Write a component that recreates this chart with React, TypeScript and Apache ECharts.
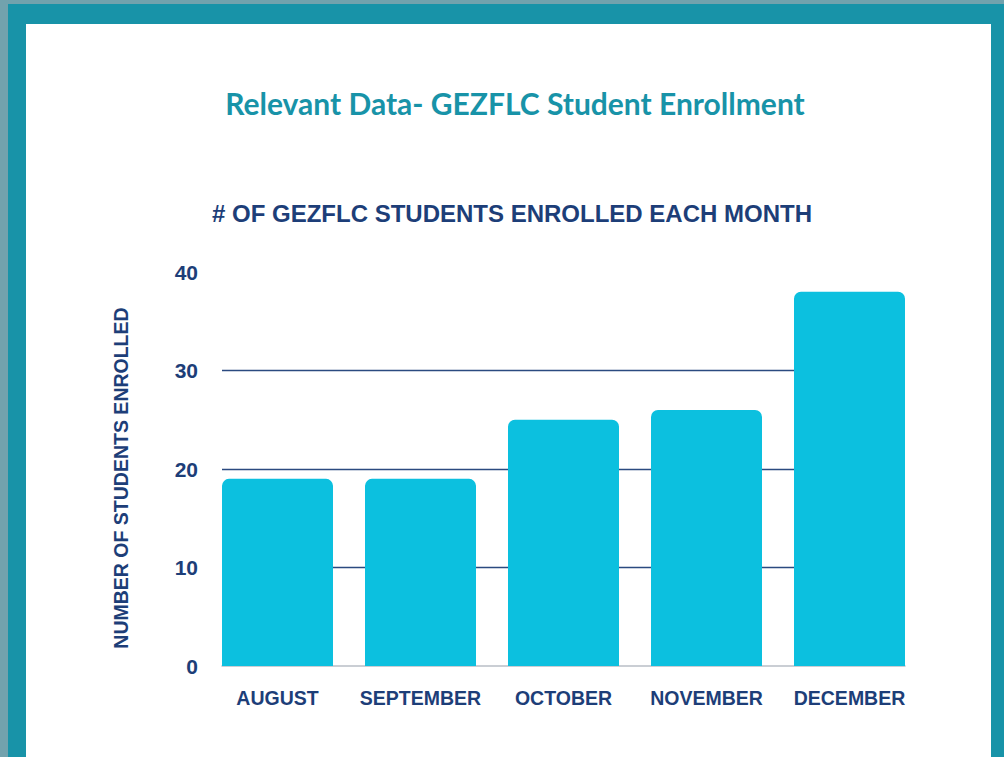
import React, { useEffect, useRef } from "react";
import * as echarts from "echarts";

const categories = ["AUGUST", "SEPTEMBER", "OCTOBER", "NOVEMBER", "DECEMBER"];
const enrolled = [19, 19, 25, 26, 38];
const yMin = 0;
const yMax = 40;
const yInterval = 10;

const titleText = "Relevant Data- GEZFLC Student Enrollment";
const subtitleText = "# OF GEZFLC STUDENTS ENROLLED EACH MONTH";
const yAxisTitle = "NUMBER OF STUDENTS ENROLLED";

const NAVY = "#1d3e78";
const TEAL = "#1893a8";
const BAR = "#0cc0df";

export default function App() {
  const ref = useRef<HTMLDivElement>(null);

  useEffect(() => {
    if (!ref.current) return;
    const chart = echarts.init(ref.current, null, { renderer: "svg" });
    chart.setOption({
      animation: false,
      backgroundColor: "transparent",
      grid: [
        { left: 222, right: 99, top: 272, bottom: 91 },
        { left: 206, right: 83, top: 272, bottom: 91 },
      ],
      xAxis: [
        {
          gridIndex: 0,
          type: "value",
          min: 0,
          max: 1,
          axisLabel: { show: false },
          axisTick: { show: false },
          splitLine: { show: false },
          axisLine: { show: true, lineStyle: { color: "#b9bec6", width: 1.5 } },
        },
        {
          gridIndex: 1,
          type: "category",
          data: categories,
          axisLine: { show: false },
          axisTick: { show: false },
          axisLabel: {
            interval: 0,
            margin: 22,
            color: NAVY,
            fontFamily: "Liberation Sans, Arial, sans-serif",
            fontWeight: "bold",
            fontSize: 19.5,
          },
        },
      ],
      yAxis: [
        {
          gridIndex: 0,
          type: "value",
          min: yMin,
          max: yMax,
          interval: yInterval,
          axisLine: { show: false },
          axisTick: { show: false },
          axisLabel: {
            margin: 24,
            color: NAVY,
            fontFamily: "Liberation Sans, Arial, sans-serif",
            fontWeight: "bold",
            fontSize: 21,
            padding: [8, 0, 0, 0],
          },
          splitLine: {
            show: true,
            showMinLine: false,
            showMaxLine: false,
            lineStyle: { color: "#2b4a80", width: 1.3 },
          },
        },
        {
          gridIndex: 1,
          type: "value",
          min: yMin,
          max: yMax,
          interval: yInterval,
          show: false,
          splitLine: { show: false },
        },
      ],
      series: [
        {
          type: "bar",
          xAxisIndex: 1,
          yAxisIndex: 1,
          data: enrolled,
          barWidth: 111,
          itemStyle: { color: BAR, borderRadius: [7, 7, 0, 0] },
          z: 3,
        },
      ],
      graphic: [
        {
          type: "text",
          x: 515,
          y: 103,
          style: {
            text: titleText,
            fill: TEAL,
            font: "bold 30px Lato, 'Open Sans', sans-serif",
            textAlign: "center",
            textVerticalAlign: "middle",
          },
        },
        {
          type: "text",
          x: 512,
          y: 213,
          style: {
            text: subtitleText,
            fill: NAVY,
            font: "bold 24px 'Liberation Sans', Arial, sans-serif",
            textAlign: "center",
            textVerticalAlign: "middle",
          },
        },
        {
          type: "text",
          x: 121,
          y: 478,
          rotation: Math.PI / 2,
          style: {
            text: yAxisTitle,
            fill: NAVY,
            font: "bold 19.5px 'Liberation Sans', Arial, sans-serif",
            textAlign: "center",
            textVerticalAlign: "middle",
          },
        },
      ],
    });
    return () => chart.dispose();
  }, []);

  return (
    <div
      style={{
        position: "fixed",
        left: 0,
        top: 0,
        width: 1004,
        height: 757,
        background: "#72a2ad",
        overflow: "hidden",
      }}
    >
      <div
        style={{
          position: "absolute",
          left: 8,
          top: 4,
          width: 996,
          height: 753,
          background: TEAL,
        }}
      />
      <div
        style={{
          position: "absolute",
          left: 26,
          top: 24,
          width: 965,
          height: 733,
          background: "#ffffff",
        }}
      />
      <div
        ref={ref}
        style={{ position: "absolute", left: 0, top: 0, width: 1004, height: 757 }}
      />
    </div>
  );
}
